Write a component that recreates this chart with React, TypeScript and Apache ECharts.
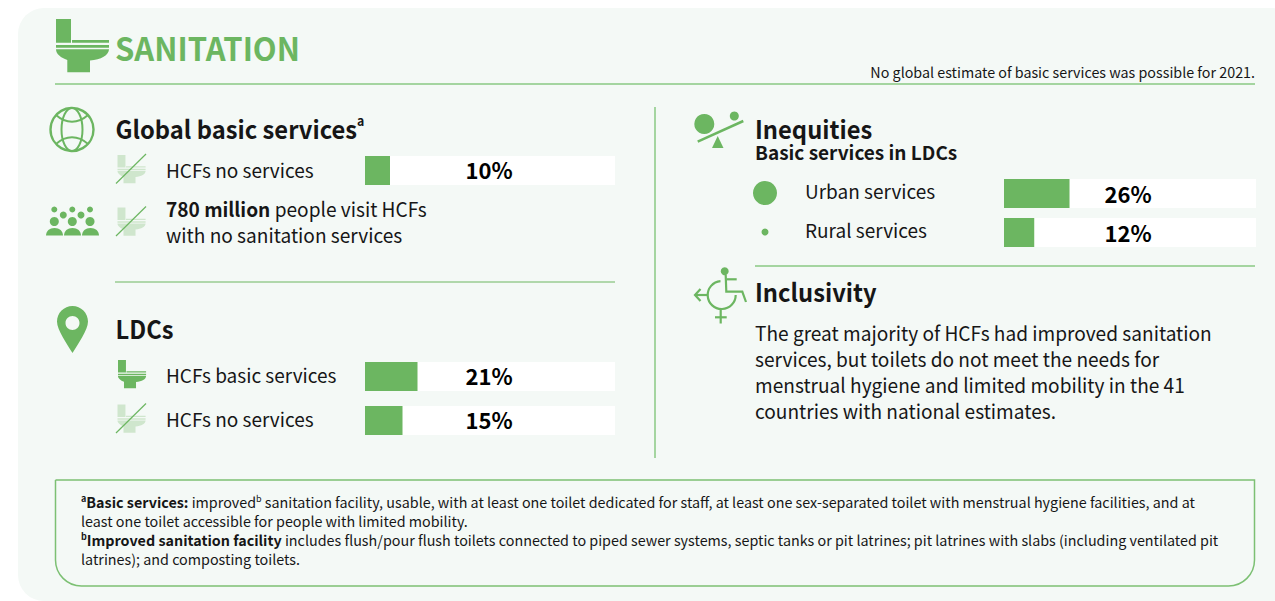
import React, { useEffect, useRef } from "react";
import * as echarts from "echarts";

const FONT = '"Noto Sans CJK SC", "Noto Sans", sans-serif';
const GREEN = "#6cb661";
const LINE = "#8ac983";
const PALE = "#cfe6cd";
const INK = "#161616";

const globalCategories = ["HCFs no services"];
const globalValues = [10];
const ldcCategories = ["HCFs basic services", "HCFs no services"];
const ldcValues = [21, 15];
const equityCategories = ["Urban services", "Rural services"];
const equityValues = [26, 12];

const inclusivityLines = [
  "The great majority of HCFs had improved sanitation",
  "services, but toilets do not meet the needs for",
  "menstrual hygiene and limited mobility in the 41",
  "countries with national estimates.",
];
const footnoteLines = [
  "{sb|a}{b|Basic services:} improved{sup|b} sanitation facility, usable, with at least one toilet dedicated for staff, at least one sex-separated toilet with menstrual hygiene facilities, and at",
  "least one toilet accessible for people with limited mobility.",
  "{sb|b}{b|Improved sanitation facility} includes flush/pour flush toilets connected to piped sewer systems, septic tanks or pit latrines; pit latrines with slabs (including ventilated pit",
  "latrines); and composting toilets.",
];

echarts.graphic.registerShape(
  "toilet",
  echarts.graphic.extendPath(
    "M0 0H15V23.7H16V21H53V23.7H0ZM0 26H53V28.7H0ZM0 30.3H53C53 36 45 41 34 41.5V53.3H11.3V41C5 39 0 35 0 30.3Z",
    {}
  )
);
echarts.graphic.registerShape(
  "pin",
  echarts.graphic.extendPath(
    "M15.5 0C24 0 31 7 31 15.5C31 24 21 38 15.5 47C10 38 0 24 0 15.5C0 7 7 0 15.5 0ZM15.5 10C11.6 10 8.5 13.2 8.5 17C8.5 20.8 11.6 24 15.5 24C19.4 24 22.5 20.8 22.5 17C22.5 13.2 19.4 10 15.5 10Z",
    {}
  )
);
echarts.graphic.registerShape(
  "dome",
  echarts.graphic.extendPath("M0 7.5C0 3 3.5 0 8.5 0C13.5 0 17 3 17 7.5Z", {})
);

function text(x: number, y: number, t: string, size: number, extra: any = {}, scaleX = 1) {
  return {
    type: "text",
    x,
    y,
    scaleX,
    originX: 0,
    style: {
      text: t,
      fontSize: size,
      lineHeight: Math.round(size * 1.15),
      fontFamily: FONT,
      fill: INK,
      verticalAlign: "middle",
      ...extra,
    },
  };
}
function rule(x1: number, y1: number, x2: number, y2: number, stroke = LINE, lineWidth = 1.5) {
  return { type: "line", shape: { x1, y1, x2, y2 }, style: { stroke, lineWidth } };
}
function dot(cx: number, cy: number, r: number, fill = GREEN) {
  return { type: "circle", shape: { cx, cy, r }, style: { fill } };
}
function toilet(x: number, y: number, scale: number, fill = GREEN) {
  return { type: "toilet", x, y, scaleX: scale, scaleY: scale, style: { fill } };
}
function noToilet(x: number, y: number) {
  return [toilet(x + 1.5, y + 1, 0.53, PALE), rule(x, y + 29.5, x + 30, y, GREEN, 1.2)];
}

function barSeries(index: number, values: number[], labelOffset: number[]) {
  return [
    {
      type: "bar",
      xAxisIndex: index,
      yAxisIndex: index,
      data: values.map(() => 100),
      barWidth: 29,
      barGap: "-100%",
      silent: true,
      itemStyle: { color: "#ffffff" },
      label: {
        show: true,
        position: "inside",
        offset: labelOffset,
        color: "#000000",
        fontFamily: FONT,
        fontWeight: 700,
        fontSize: 22,
        formatter: (p: any) => `${values[p.dataIndex]}%`,
      },
      z: 2,
    },
    {
      type: "bar",
      xAxisIndex: index,
      yAxisIndex: index,
      data: values,
      barWidth: 29,
      barGap: "-100%",
      silent: true,
      itemStyle: { color: GREEN },
      z: 3,
    },
  ];
}

export default function App() {
  const ref = useRef<HTMLDivElement>(null);
  useEffect(() => {
    const chart = echarts.init(ref.current!, null, { renderer: "svg" });
    const axes = [
      { cats: globalCategories, margin: 199, lift: 2 },
      { cats: ldcCategories, margin: 199, lift: 4 },
      { cats: equityCategories, margin: 199, lift: 6 },
    ];
    const SX = 0.955;
    const elements: any[] = [
      { type: "rect", shape: { x: 18, y: 8, width: 1280, height: 593, r: 26 }, style: { fill: "#f4f9f6" } },
      toilet(56, 19, 1),
      text(115, 47, "SANITATION", 32, { fontWeight: 700, fill: GREEN }, 0.97),
      text(1255, 71, "No global estimate of basic services was possible for 2021.", 14.3, { align: "right" }),
      rule(55, 84, 1255, 84),
      rule(655, 107, 655, 458),
      rule(115, 282, 615, 282, GREEN, 1),
      rule(755, 266, 1255, 266),
      // Globe
      { type: "circle", shape: { cx: 72, cy: 129.5, r: 21.5 }, style: { fill: "none", stroke: GREEN, lineWidth: 2.4 } },
      { type: "ellipse", shape: { cx: 72, cy: 129.5, rx: 10.5, ry: 21.5 }, style: { fill: "none", stroke: GREEN, lineWidth: 2 } },
      { type: "bezierCurve", shape: { x1: 56, y1: 115, cpx1: 66, cpy1: 124, cpx2: 78, cpy2: 124, x2: 88, y2: 115 }, style: { fill: "none", stroke: GREEN, lineWidth: 2 } },
      { type: "bezierCurve", shape: { x1: 56, y1: 144, cpx1: 66, cpy1: 135, cpx2: 78, cpy2: 135, x2: 88, y2: 144 }, style: { fill: "none", stroke: GREEN, lineWidth: 2 } },
      // People
      ...[54.3, 72.3, 90].map((x) => dot(x, 209.5, 3)),
      ...[63.3, 81].map((x) => dot(x, 215, 3.5)),
      ...[54.3, 72.3, 90].map((x) => dot(x, 221.5, 4.5)),
      ...[46, 64, 82].map((x) => ({ type: "dome", x, y: 228, style: { fill: GREEN } })),
      // Pin
      { type: "pin", x: 57, y: 306, style: { fill: GREEN } },
      // Toilets
      ...noToilet(116, 154),
      ...noToilet(116, 206.5),
      toilet(118, 360, 0.53),
      ...noToilet(116, 403.5),
      // Seesaw
      dot(704.3, 124, 10),
      dot(734.3, 116, 4.5),
      rule(697.7, 141.7, 743.3, 121, GREEN, 2.5),
      { type: "polygon", shape: { points: [[712, 148], [723.5, 148], [717.7, 136]] }, style: { fill: GREEN } },
      dot(765, 193, 12),
      dot(765, 232, 3.5),
      // Accessibility and gender icon
      dot(724.7, 271.3, 4),
      { type: "arc", shape: { cx: 721.7, cy: 295, r: 14, startAngle: 0, endAngle: (265 * Math.PI) / 180, clockwise: true }, style: { fill: "none", stroke: GREEN, lineWidth: 2.2 } },
      { type: "polyline", shape: { points: [[725.7, 275], [726.3, 291.7], [742.3, 291.7], [746, 302]] }, style: { fill: "none", stroke: GREEN, lineWidth: 2.2 } },
      rule(726.7, 279.3, 736.7, 279.3, GREEN, 2.2),
      rule(695, 295, 707.5, 295, GREEN, 2.2),
      { type: "polyline", shape: { points: [[700.5, 289], [695, 295], [700.5, 301]] }, style: { fill: "none", stroke: GREEN, lineWidth: 2.2 } },
      rule(720.7, 309, 720.7, 323.5, GREEN, 2.2),
      rule(715, 317.3, 726.7, 317.3, GREEN, 2.2),
      // Headings
      text(115.5, 128.5, "{h|Global basic services}{s|a}", 25, {
        rich: {
          h: { fontSize: 25, fontWeight: 700, fontFamily: FONT, fill: INK },
          s: { fontSize: 13, fontWeight: 700, fontFamily: FONT, fill: INK, verticalAlign: "top" },
        },
      }, 0.95),
      text(166, 208.5, "{b|780 million} people visit HCFs", 20, {
        rich: { b: { fontSize: 20, fontWeight: 700, fontFamily: FONT, fill: INK } },
      }, SX),
      text(166, 234.5, "with no sanitation services", 20, {}, SX),
      text(115.5, 328.5, "LDCs", 25, { fontWeight: 700 }, 0.95),
      text(755, 128.5, "Inequities", 25, { fontWeight: 700 }, 0.95),
      text(755, 151, "Basic services in LDCs", 19, { fontWeight: 700 }),
      text(755, 291.5, "Inclusivity", 25, { fontWeight: 700 }, 0.95),
      ...inclusivityLines.map((l, i) => text(755, 332.5 + i * 26, l, 20, {}, SX)),
      // Footnote box
      { type: "rect", shape: { x: 55.5, y: 480, width: 1199, height: 106, r: [0, 0, 26, 26] }, style: { fill: "none", stroke: "#7cc073", lineWidth: 1.5 } },
      ...footnoteLines.map((l, i) =>
        text(81, 501.5 + i * 19, l, 14.34, {
          rich: {
            b: { fontSize: 14.34, fontWeight: 700, fontFamily: FONT, fill: INK },
            sb: { fontSize: 9, fontWeight: 700, fontFamily: FONT, fill: INK, verticalAlign: "top" },
            sup: { fontSize: 9, fontFamily: FONT, fill: INK, verticalAlign: "top" },
          },
        })
      ),
    ];

    chart.setOption({
      animation: false,
      grid: [
        { left: 365, top: 156, width: 250, height: 29 },
        { left: 365, top: 354.5, width: 250, height: 88 },
        { left: 1004, top: 174, width: 252, height: 78 },
      ],
      xAxis: axes.map((_, i) => ({ type: "value", gridIndex: i, min: 0, max: 100, show: false })),
      yAxis: axes.map((a, i) => ({
        type: "category",
        gridIndex: i,
        inverse: true,
        data: a.cats,
        axisLine: { show: false },
        axisTick: { show: false },
        axisLabel: {
          align: "left",
          margin: a.margin,
          color: INK,
          formatter: (v: string) => `{t|${v}}`,
          rich: { t: { fontSize: 19, fontFamily: FONT, color: INK, padding: [0, 0, a.lift, 0] } },
        },
      })),
      series: [
        ...barSeries(0, globalValues, [-1, -1.5]),
        ...barSeries(1, ldcValues, [-1, -1.5]),
        ...barSeries(2, equityValues, [-2, -1]),
      ],
      graphic: { elements },
    });
    return () => chart.dispose();
  }, []);
  return <div ref={ref} style={{ position: "absolute", left: 0, top: 0, width: 1275, height: 601, overflow: "hidden" }} />;
}
